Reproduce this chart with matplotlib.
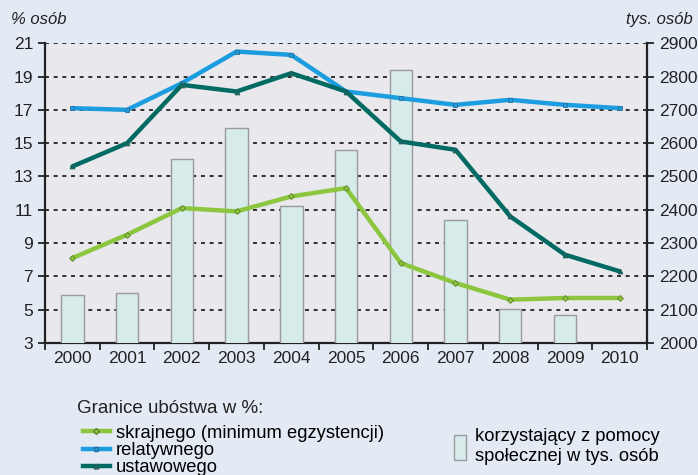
import matplotlib.pyplot as plt
import numpy as np
from matplotlib.lines import Line2D
from matplotlib.patches import Patch

plt.rcParams["font.family"] = ["Liberation Sans", "DejaVu Sans"]

years = ["2000", "2001", "2002", "2003", "2004", "2005",
         "2006", "2007", "2008", "2009", "2010"]
skrajnego = [8.1, 9.5, 11.1, 10.9, 11.8, 12.3, 7.8, 6.6, 5.6, 5.7, 5.7]
relatywnego = [17.1, 17.0, 18.6, 20.5, 20.3, 18.1, 17.7, 17.3, 17.6, 17.3, 17.1]
ustawowego = [13.6, 15.0, 18.5, 18.1, 19.2, 18.1, 15.1, 14.6, 10.6, 8.3, 7.3]
pomoc_spoleczna = [2145, 2149, 2551, 2644, 2412, 2578, 2821, 2369, 2102, 2084, np.nan]

BG = "#e3eaf4"
PLOT_BG = "#e8e8ed"
GREEN = "#8cc63e"
BLUE = "#1b9de0"
TEAL = "#006a63"
BAR_FILL = "#d7ebeb"
BAR_EDGE = "#9a9a9a"
INK = "#222222"

fig = plt.figure(figsize=(6.98, 4.75), dpi=100, facecolor=BG)
ax = fig.add_axes([0.0645, 0.278, 0.8625, 0.631])
ax.set_facecolor(PLOT_BG)
ax2 = ax.twinx()

x = np.arange(len(years))

# bars on the right axis
ax2.bar(x, pomoc_spoleczna, width=0.41, color=BAR_FILL, edgecolor=BAR_EDGE,
        linewidth=1.0, zorder=1)
ax2.set_ylim(2000, 2900)
ax2.set_yticks(np.arange(2000, 2901, 100))

ax.set_ylim(3, 21)
ax.set_xlim(-0.5, 10.5)
ax.set_yticks(np.arange(3, 22, 2))
for yv in range(5, 22, 2):
    ax2.axhline(2000 + (yv - 3) * 50, color=INK, linestyle=(0, (2.2, 2.6)),
                linewidth=1.3, zorder=0.5)

# lines drawn on top of bars
ax3 = ax.twinx()
ax3.set_ylim(3, 21)
ax3.axis("off")
ax3.plot(x, relatywnego, color=BLUE, linewidth=3.2, marker="s", markersize=3.5,
         markerfacecolor=BLUE, markeredgecolor="#2a6f9a", markeredgewidth=0.6,
         solid_capstyle="round")
ax3.plot(x, ustawowego, color=TEAL, linewidth=3.2, marker="^", markersize=3.5,
         markerfacecolor=TEAL, markeredgecolor="#2f5f5a", markeredgewidth=0.6,
         solid_capstyle="round")
ax3.plot(x, skrajnego, color=GREEN, linewidth=3.2, marker="D", markersize=3,
         markerfacecolor=GREEN, markeredgecolor="#5d7f2a", markeredgewidth=0.6,
         solid_capstyle="round")

ax.set_xticks(x)
ax.set_xticklabels(years)
ax.set_xticks(np.arange(-0.5, 10.6, 1), minor=True)
ax.tick_params(axis="x", which="major", length=0, labelsize=12.5, pad=6,
               colors=INK)
ax.tick_params(axis="x", which="minor", length=5, width=1.3, direction="out",
               color=INK)
ax.tick_params(axis="y", length=5, width=1.3, labelsize=12.5, colors=INK)
ax2.tick_params(axis="y", length=5, width=1.3, labelsize=12.5, colors=INK)

for a in (ax, ax2, ax3):
    a.spines["top"].set_visible(False)
ax.spines["right"].set_visible(False)
ax2.spines["left"].set_visible(False)
ax2.spines["bottom"].set_visible(False)
for s in (ax.spines["left"], ax.spines["bottom"], ax2.spines["right"]):
    s.set_linewidth(1.6)
    s.set_color(INK)

fig.text(0.016, 0.958, "% osób", fontsize=12, style="italic", color=INK,
         va="center")
fig.text(0.993, 0.958, "tys. osób", fontsize=12, style="italic",
         color=INK, ha="right", va="center")

# legends
fig.text(0.111, 0.141, "Granice ubóstwa w %:", fontsize=13.5, color=INK,
         va="center")
handles = [
    Line2D([], [], color=GREEN, linewidth=3.2, marker="D", markersize=3,
           markerfacecolor=GREEN, markeredgecolor="#5d7f2a"),
    Line2D([], [], color=BLUE, linewidth=3.2, marker="s", markersize=3.5,
           markerfacecolor=BLUE, markeredgecolor="#2a6f9a"),
    Line2D([], [], color=TEAL, linewidth=3.2, marker="^", markersize=3.5,
           markerfacecolor=TEAL, markeredgecolor="#2f5f5a"),
]
labels = ["skrajnego (minimum egzystencji)", "relatywnego", "ustawowego"]
fig.legend(handles, labels, loc="upper left", bbox_to_anchor=(0.119, 0.106),
           frameon=False, fontsize=13.2, handlelength=1.45, handletextpad=0.35,
           labelspacing=0.02, borderpad=0, borderaxespad=0)
fig.legend([Patch(facecolor=BAR_FILL, edgecolor=BAR_EDGE)],
           ["korzystający z pomocy\nspołecznej w tys. osób"],
           loc="upper left", bbox_to_anchor=(0.651, 0.098), frameon=False,
           handlelength=0.65, handleheight=1.7,
           handletextpad=0.45, borderpad=0, borderaxespad=0,
           prop={"size": 13.2, "family": ["Liberation Sans"]})

fig.savefig("out.png", dpi=100, facecolor=BG)
